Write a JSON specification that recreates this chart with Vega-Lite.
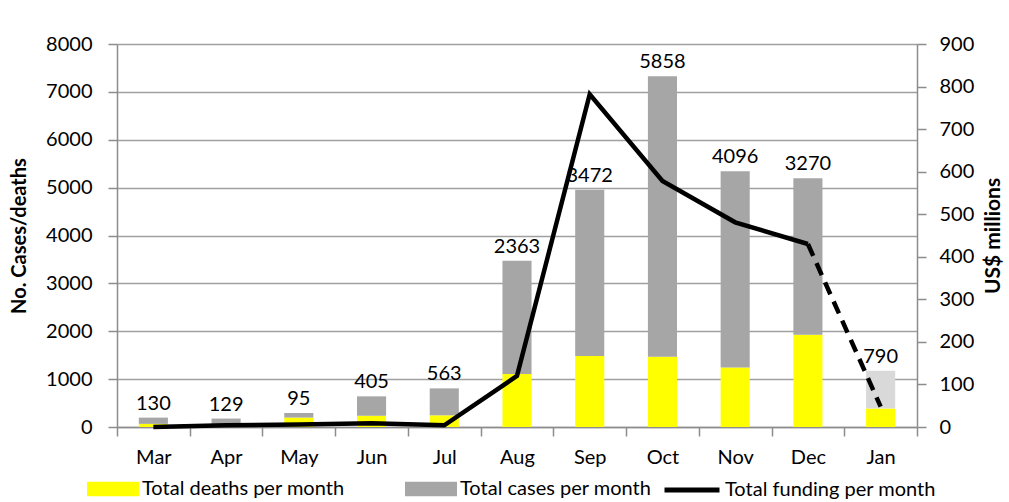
{
  "$schema": "https://vega.github.io/schema/vega-lite/v6.json",
  "width": 800,
  "height": 383,
  "autosize": {"type": "none"},
  "padding": {"left": 117, "top": 44, "right": 92, "bottom": 75},
  "background": "white",
  "config": {
    "view": {"stroke": null},
    "font": "Lato",
    "axis": {"labelFont": "Lato", "titleFont": "Lato", "labelColor": "#000000", "titleColor": "#000000", "labelFontSize": 20, "titleFontSize": 20, "titleFontWeight": "bold", "domainColor": "#8c8c8c", "domainWidth": 1.5, "tickColor": "#8c8c8c", "tickWidth": 1.5, "tickSize": 9, "gridColor": "#a0a0a0", "gridWidth": 1.5}
  },
  "data": {
    "values": [
      {"month": "Mar", "deaths": 66, "cases": 130, "funding": 0},
      {"month": "Apr", "deaths": 47, "cases": 129, "funding": 4},
      {"month": "May", "deaths": 197, "cases": 95, "funding": 6},
      {"month": "Jun", "deaths": 235, "cases": 405, "funding": 9},
      {"month": "Jul", "deaths": 244, "cases": 563, "funding": 4},
      {"month": "Aug", "deaths": 1107, "cases": 2363, "funding": 120},
      {"month": "Sep", "deaths": 1483, "cases": 3472, "funding": 782},
      {"month": "Oct", "deaths": 1469, "cases": 5858, "funding": 578},
      {"month": "Nov", "deaths": 1245, "cases": 4096, "funding": 481},
      {"month": "Dec", "deaths": 1928, "cases": 3270, "funding": 430},
      {"month": "Jan", "deaths": 386, "cases": 790, "funding": 48}
    ]
  },
  "encoding": {
    "x": {"field": "month", "type": "nominal", "sort": null, "scale": {"paddingInner": 0, "paddingOuter": 0},
      "axis": {"title": null, "labelAngle": 0, "tickBand": "extent", "grid": false, "labelPadding": 11, "orient": "bottom"}}
  },
  "layer": [
    {
      "transform": [{"fold": ["deaths", "cases"], "as": ["series", "value"]}],
      "mark": {"type": "bar", "width": {"band": 0.4}},
      "encoding": {
        "y": {"field": "value", "type": "quantitative", "stack": "zero", "scale": {"domain": [0, 8000]}, "axis": {"title": "No. Cases/deaths", "format": "d", "values": [0,1000,2000,3000,4000,5000,6000,7000,8000], "grid": true, "labelPadding": 16, "titlePadding": 16}},
        "order": {"field": "series", "sort": "descending"},
        "color": {
          "condition": {"test": "datum.month === 'Jan' && datum.series === 'cases'", "value": "#d9d9d9"},
          "field": "series", "type": "nominal",
          "scale": {"domain": ["deaths", "cases"], "range": ["#ffff00", "#a6a6a6"]},
          "legend": {"orient": "none", "legendX": -30, "legendY": 419, "direction": "horizontal", "title": null, "labelExpr": "datum.label === 'deaths' ? 'Total deaths per month' : 'Total cases per month'", "labelFont": "Lato", "labelFontSize": 20, "labelColor": "#000000", "symbolType": "M-1,-0.28H1V0.28H-1Z", "symbolSize": 2704, "symbolStrokeWidth": 0, "symbolOpacity": 1, "columnPadding": 60, "labelOffset": 3, "labelLimit": 400}
        }
      }
    },
    {
      "transform": [{"fold": ["deaths", "cases"], "as": ["series", "value"]}],
      "mark": {"type": "text", "baseline": "bottom", "dy": -4, "fontSize": 20, "font": "Lato", "color": "#000000"},
      "encoding": {
        "y": {"field": "value", "type": "quantitative", "stack": "zero", "axis": null},
        "order": {"field": "series", "sort": "descending"},
        "text": {"condition": {"test": "datum.series === 'deaths'", "value": ""}, "field": "value", "type": "quantitative"}
      }
    },
    {
      "layer": [
        {
          "transform": [{"filter": "datum.month !== 'Jan'"}],
          "mark": {"type": "line", "strokeWidth": 4.5, "strokeJoin": "miter"},
          "encoding": {
            "y": {"field": "funding", "type": "quantitative", "scale": {"domain": [0, 900]}, "axis": {"orient": "right", "title": "US$ millions", "titleAngle": -90, "titleFontSize": 21, "values": [0,100,200,300,400,500,600,700,800,900], "grid": false, "labelPadding": 13, "titlePadding": 30}},
            "stroke": {"datum": "Total funding per month", "type": "nominal", "scale": {"range": ["#000000"]}, "legend": {"orient": "none", "legendX": 545, "legendY": 416, "title": null, "labelFont": "Lato", "labelFontSize": 20, "labelColor": "#000000", "symbolType": "stroke", "symbolSize": 3025, "symbolStrokeWidth": 5, "labelOffset": 3, "labelLimit": 400}}
          }
        },
        {
          "transform": [{"filter": "datum.month === 'Dec' || datum.month === 'Jan'"}],
          "mark": {"type": "line", "strokeWidth": 4.5, "strokeDash": [13, 8]},
          "encoding": {
            "y": {"field": "funding", "type": "quantitative"},
            "stroke": {"datum": "Total funding per month", "type": "nominal"}
          }
        }
      ]
    }
  ],
  "resolve": {"scale": {"y": "independent"}}
}
